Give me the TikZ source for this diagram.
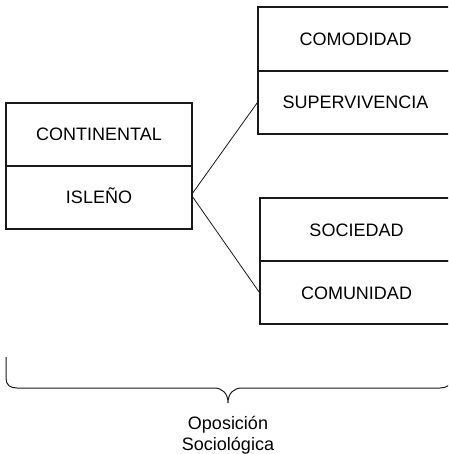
\documentclass[tikz,border=0pt]{standalone}
\usepackage{fontspec}
\setmainfont{Liberation Sans}
\begin{document}
\begin{tikzpicture}[x=1pt,y=-1pt,
  cell/.style={draw=black!90, line width=1.1pt, inner sep=0pt, text height=13pt, text depth=0pt,
    font=\fontsize{18}{21}\selectfont},
  conn/.style={draw=black!90, line width=0.8pt},
  lbl/.style={align=center, inner sep=0pt, font=\fontsize{18}{21}\selectfont}]
\useasboundingbox (0,0) rectangle (448,454);
\clip (0,0) rectangle (448,454);
% left box
\node[cell, minimum width=186pt, minimum height=63pt] (cont) at (99,134.5) {CONTINENTAL};
\node[cell, minimum width=186pt, minimum height=63pt] (isl) at (99,197.5) {ISLEÑO};
% top right box
\node[cell, minimum width=195pt, minimum height=64pt] (como) at (355.5,39) {COMODIDAD};
\node[cell, minimum width=195pt, minimum height=63pt] (sup) at (355.5,102.5) {SUPERVIVENCIA};
% bottom right box
\node[cell, minimum width=193pt, minimum height=63pt] (soc) at (356.5,229.5) {SOCIEDAD};
\node[cell, minimum width=193pt, minimum height=63pt] (com) at (356.5,292.5) {COMUNIDAD};
% connectors
\coordinate (a) at (192,194);
\coordinate (b) at (192,196);
\draw[conn] (a) -- (sup.west);
\draw[conn] (b) -- (com.west);
% brace
\draw[draw=black!90, line width=1pt]
  (6,357) -- (6,378) .. controls (6,385) and (10,388) .. (17,388) -- (214,388)
  .. controls (222,388) and (228,393) .. (228,403)
  .. controls (228,393) and (234,388) .. (242,388) -- (440,388)
  .. controls (447,388) and (451,385) .. (451,378) -- (451,357);
\node[lbl] (opos) at (228,435) {Oposición\\Sociológica};
\end{tikzpicture}
\end{document}
